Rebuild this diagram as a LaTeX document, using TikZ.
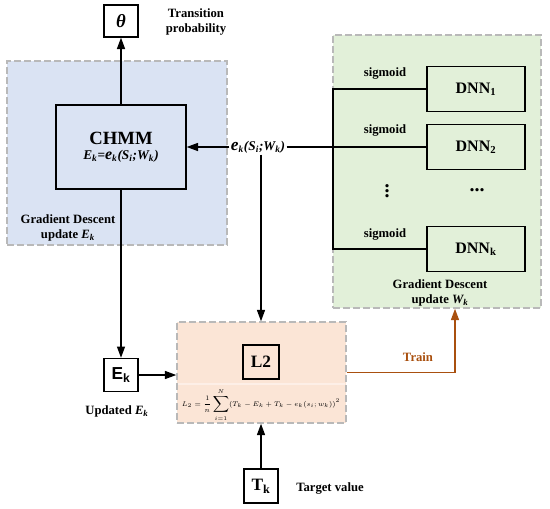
\documentclass[tikz,border=0pt]{standalone}
\usepackage{fontspec}
\setmainfont{Liberation Serif}
\newfontfamily\sansbf{Liberation Sans}
\usetikzlibrary{arrows.meta,positioning}
\definecolor{paleblue}{HTML}{DAE3F3}
\definecolor{palegreen}{HTML}{E2F0D9}
\definecolor{palepeach}{HTML}{FBE5D6}
\definecolor{rust}{HTML}{A9500F}
\definecolor{dashgray}{RGB}{185,185,185}
\newcommand{\sub}[1]{\textsubscript{#1}}
\tikzset{
  >={Triangle[length=8.5pt,width=6pt]},
  zone/.style={fill=#1,draw=dashgray,line width=1.1pt,dash pattern=on 5pt off 2.5pt,inner sep=0pt},
  zone/.default=paleblue,
  blk/.style={draw,line width=1pt,inner sep=0pt,align=center,
    font=\bfseries\fontsize{13}{15}\selectfont},
  lbl/.style={font=\bfseries\fontsize{9.5}{11}\selectfont,align=center},
  link/.style={->,line width=1pt,draw=#1},
  link/.default=black,
}
\begin{document}
\begin{tikzpicture}[x=0.75pt,y=-0.75pt]
    \useasboundingbox (0,0) rectangle (550,508);
    % dashed panels
    \node[zone=paleblue,minimum width=165pt,minimum height=138pt] (chmmzone) at (117,153) {};
    \node[zone=palegreen,minimum width=156pt,minimum height=204.75pt] (dnnzone) at (437,171.5) {};
    \node[zone=palepeach,minimum width=126.75pt,minimum height=75.75pt] (losszone) at (261.5,372.5) {};
    \draw[white!40!palepeach,line width=0.8pt] (178,384) -- (345,384);
    % blocks
    \node[blk,minimum width=25.5pt,minimum height=24pt,font=\bfseries\itshape\fontsize{14}{15}\selectfont] (theta) at (121,21) {θ};
    \node[blk,minimum width=97.5pt,minimum height=63pt,font=\bfseries] (chmm) at (121,147)
      {{\fontsize{14}{17}\selectfont CHMM}\\[-1pt]
       {\fontsize{10}{12}\selectfont\itshape E\sub{k}{\upshape=}{\fontsize{12}{12}\selectfont e}\sub{k}(S\sub{i};W\sub{k})}};
    \node[blk,minimum width=73.5pt,minimum height=33.75pt,font=\bfseries\fontsize{12}{14}\selectfont] (dnn1) at (476,89) {DNN\sub{1}};
    \node[blk,minimum width=73.5pt,minimum height=33.75pt,font=\bfseries\fontsize{12}{14}\selectfont] (dnn2) at (476,147) {DNN\sub{2}};
    \node[blk,minimum width=73.5pt,minimum height=33.75pt,font=\bfseries\fontsize{12}{14}\selectfont] (dnnk) at (476,249) {DNN\sub{k}};
    \node[blk,minimum width=27pt,minimum height=25.5pt] (L2) at (261,362) {L2};
    \node[blk,minimum width=25.5pt,minimum height=24.75pt,font=\sansbf\bfseries\fontsize{13}{15}\selectfont] (Ek) at (121,375) {E\sub{k}};
    \node[blk,minimum width=25.5pt,minimum height=25.5pt] (Tk) at (261,486) {T\sub{k}};
    \node[font=\fontsize{5.6}{7}\selectfont,scale=0.85,transform shape,inner sep=0pt] (formula) at (261,405)
      {$\displaystyle L_2=\frac{1}{n}\sum_{i=1}^{N}(T_k-E_k+T_k-e_k(s_i;w_k))^2$};
    % labels
    \node[lbl] (translbl) at (196,22) {Transition\\probability};
    \node[lbl,font=\bfseries\itshape\fontsize{10}{12}\selectfont,inner sep=1pt] (emis) at (258,147)
      {{\fontsize{13}{12}\selectfont e}\sub{k}(S\sub{i};W\sub{k})};
    \node[lbl] (sig1) at (385,73) {sigmoid};
    \node[lbl] (sig2) at (385,130) {sigmoid};
    \node[lbl] (sigk) at (385,234) {sigmoid};
    \node[lbl,font=\bfseries\fontsize{15}{15}\selectfont,inner sep=0pt] (vdot) at (387,187) {$\vdots$};
    \node[lbl,font=\bfseries\fontsize{15}{15}\selectfont,inner sep=0pt] (hdot) at (477,190) {...};
    \node[lbl] (gdw) at (440,293) {Gradient Descent\\update \textit{W\sub{k}}};
    \node[lbl] (gde) at (68,228) {Gradient Descent\\update \textit{E\sub{k}}};
    \node[lbl] (updlbl) at (117,411) {Updated \textit{E\sub{k}}};
    \node[lbl,text=rust] (trainlbl) at (418,357) {Train};
    \node[lbl] (tgtlbl) at (330,488) {Target value};
    % connectors
    \coordinate (split) at (333,147);
    \draw[link] (chmm) -- (theta);
    \draw[link] (emis) -- (chmm);
    \draw[line width=1pt] (emis) -- (split) -- (dnn2.west);
    \draw[line width=1pt] (dnn1.west) -| (split) |- (dnnk.west);
    \draw[link] (emis.south -| L2) -- (losszone.north -| L2);
    \draw[link] (chmm) -- (Ek);
    \draw[link] (Ek.east) -- (Ek.east -| losszone.west);
    \draw[link] (Tk) -- (Tk.north |- losszone.south);
    \draw[link=rust] (losszone.east) -| ([xshift=13.5pt]dnnzone.south);
\end{tikzpicture}
\end{document}
